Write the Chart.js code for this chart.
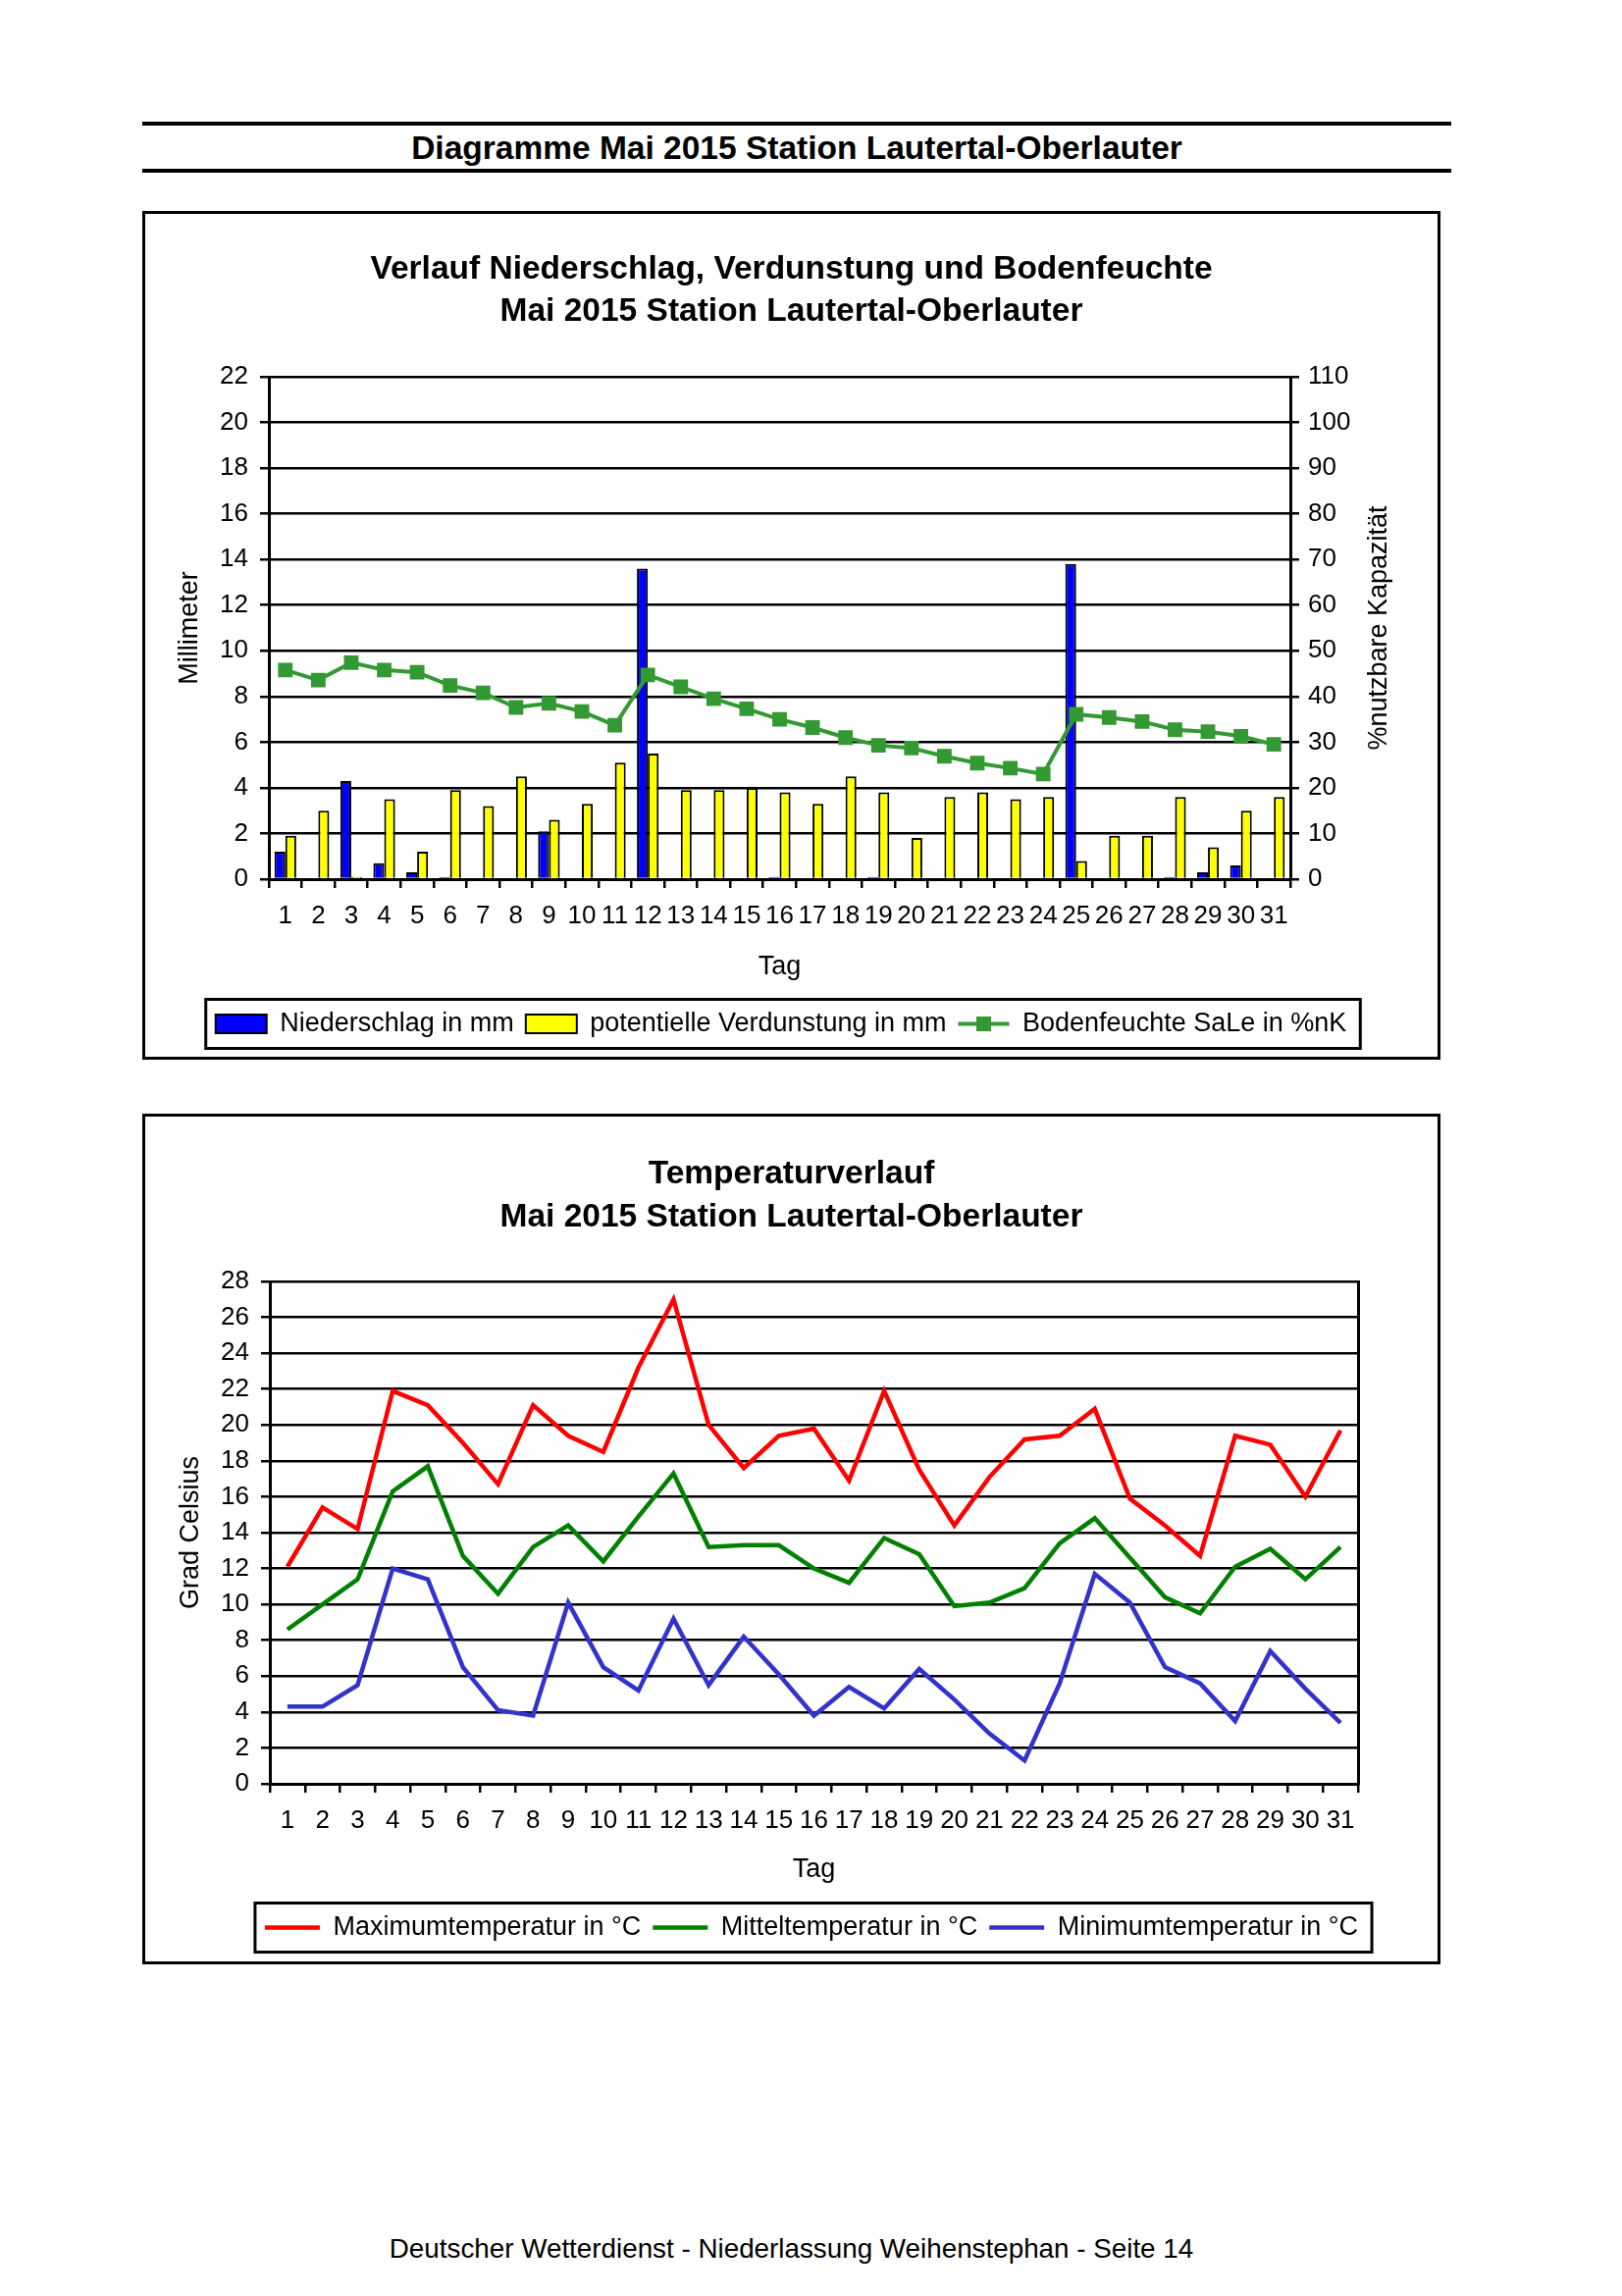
<!DOCTYPE html>
<html>
<head>
<meta charset="utf-8">
<script src="https://cdn.jsdelivr.net/npm/chart.js@4.4.1/dist/chart.umd.min.js"></script>
<style>
body { margin:0; background:#fff; font-family:"Liberation Sans", Arial, sans-serif; color:#000; }
#seite { position:relative; width:1653px; height:2340px; overflow:hidden; }
.linie { position:absolute; left:145px; width:1334px; height:4px; background:#000; }
.kopf { position:absolute; left:145px; width:1334px; top:131px; line-height:40px; text-align:center; font-weight:bold; font-size:33.5px; }
.rahmen { position:absolute; left:145px; width:1323px; border:3px solid #000; box-sizing:border-box; }
.rahmen canvas { position:absolute; left:0; top:0; }
.titel { position:absolute; left:0; width:100%; text-align:center; font-weight:bold; font-size:33.5px; line-height:43px; z-index:2; }
.fuss { position:absolute; left:145px; width:1323px; top:2276px; line-height:32px; text-align:center; font-size:27.8px; }
</style>
</head>
<body>
<div id="seite">
  <div class="linie" style="top:124px"></div>
  <div class="kopf">Diagramme Mai 2015 Station Lautertal-Oberlauter</div>
  <div class="linie" style="top:172px"></div>

  <div class="rahmen" style="top:215px;height:865px">
    <div class="titel" style="top:33px">Verlauf Niederschlag, Verdunstung und Bodenfeuchte<br>Mai 2015 Station Lautertal-Oberlauter</div>
    <canvas id="wasser" width="1317" height="859"></canvas>
  </div>

  <div class="rahmen" style="top:1135px;height:867px">
    <div class="titel" style="top:35px;line-height:44px">Temperaturverlauf<br>Mai 2015 Station Lautertal-Oberlauter</div>
    <canvas id="temp" width="1317" height="861"></canvas>
  </div>

  <div class="fuss">Deutscher Wetterdienst - Niederlassung Weihenstephan - Seite 14</div>
</div>

<script>
// Tage im Mai
const tage = [];
for (let i = 1; i <= 31; i++) tage.push(String(i));

// Niederschlag / Verdunstung in mm, Bodenfeuchte in %nK
const niederschlag = [1.2,0,4.3,0.7,0.3,0.1,0,0,2.1,0,0,13.6,0,0,0,0.1,0,0,0.1,0,0,0,0,0,13.8,0,0,0.1,0.3,0.6,0];
const verdunstung = [1.9,3.0,0.1,3.5,1.2,3.9,3.2,4.5,2.6,3.3,5.1,5.5,3.9,3.9,4.0,3.8,3.3,4.5,3.8,1.8,3.6,3.8,3.5,3.6,0.8,1.9,1.9,3.6,1.4,3.0,3.6];
const bodenfeuchte = [45.8,43.6,47.4,45.8,45.3,42.4,40.8,37.6,38.5,36.7,33.7,44.7,42.1,39.5,37.3,35.0,33.2,31.0,29.3,28.7,26.9,25.4,24.3,23.0,36.1,35.4,34.5,32.7,32.3,31.3,29.5];

// Temperaturen in Grad Celsius
const tMax = [12.1,15.4,14.2,21.9,21.1,19.0,16.7,21.1,19.4,18.5,23.2,27.0,20.0,17.6,19.4,19.8,16.9,21.9,17.5,14.4,17.1,19.2,19.4,20.9,15.9,14.4,12.7,19.4,18.9,16.0,19.7];
const tMittel = [8.6,10.0,11.4,16.3,17.7,12.7,10.6,13.2,14.4,12.4,14.9,17.3,13.2,13.3,13.3,12.0,11.2,13.7,12.8,9.9,10.1,10.9,13.4,14.8,12.6,10.4,9.5,12.1,13.1,11.4,13.2];
const tMin = [4.3,4.3,5.5,12.0,11.4,6.5,4.1,3.8,10.1,6.5,5.2,9.2,5.5,8.2,6.1,3.8,5.4,4.2,6.4,4.7,2.8,1.3,5.6,11.7,10.1,6.5,5.6,3.5,7.4,5.3,3.4];

Chart.defaults.font.family = '"Liberation Sans", Arial, sans-serif';
Chart.defaults.color = '#000';

const schrift = { size: 26 };
const titelSchrift = { size: 27 };

// Legende: Linien-Eintraege ohne Kaestchen, wir malen Linie + Marker selbst
function legendenEintraege(chart) {
  const items = Chart.defaults.plugins.legend.labels.generateLabels(chart);
  items.sort((a, b) => a.datasetIndex - b.datasetIndex);
  items.forEach(it => {
    const ds = chart.data.datasets[it.datasetIndex];
    if ((ds.type || chart.config.type) === 'line') {
      it.fillStyle = 'rgba(0,0,0,0)';
      it.strokeStyle = 'rgba(0,0,0,0)';
      it.lineWidth = 0;
    } else {
      it.lineWidth = 2;
      it.strokeStyle = '#000';
    }
  });
  return items;
}

const legendenRahmen = {
  id: 'legendenRahmen',
  afterDraw(chart) {
    const lg = chart.legend;
    const boxes = lg.legendHitBoxes;
    if (!boxes || !boxes.length) return;
    const ctx = chart.ctx;
    const bw = lg.options.labels.boxWidth;
    const cy = boxes[0].top + boxes[0].height / 2;
    const links = boxes[0].left - 10;
    const last = boxes[boxes.length - 1];
    const rechts = last.left + last.width + 14;
    ctx.save();
    ctx.lineWidth = 3;
    ctx.strokeStyle = '#000';
    ctx.strokeRect(links, cy - 25, rechts - links, 50);
    lg.legendItems.forEach((it, i) => {
      const ds = chart.data.datasets[it.datasetIndex];
      if ((ds.type || chart.config.type) !== 'line') return;
      const b = boxes[i];
      ctx.strokeStyle = ds.borderColor;
      ctx.lineWidth = ds.borderWidth;
      ctx.beginPath();
      ctx.moveTo(b.left, cy);
      ctx.lineTo(b.left + bw, cy);
      ctx.stroke();
      if (ds.pointRadius) {
        ctx.fillStyle = ds.backgroundColor;
        ctx.fillRect(b.left + bw / 2 - 7.5, cy - 7.5, 15, 15);
      }
    });
    ctx.restore();
  }
};

// rechte Achsenbeschriftung, von unten nach oben gelesen
const rechterTitel = {
  id: 'rechterTitel',
  afterDraw(chart, args, opts) {
    const s = chart.scales.y1;
    const ctx = chart.ctx;
    ctx.save();
    ctx.font = '27px "Liberation Sans", Arial, sans-serif';
    ctx.fillStyle = '#000';
    ctx.textAlign = 'center';
    ctx.textBaseline = 'middle';
    ctx.translate(s.right - opts.abstand, (chart.chartArea.top + chart.chartArea.bottom) / 2);
    ctx.rotate(-Math.PI / 2);
    ctx.fillText(opts.text, 0, 0);
    ctx.restore();
  }
};

const gitter = { color: '#000', lineWidth: 2.5, tickLength: 9 };

new Chart(document.getElementById('wasser'), {
  type: 'bar',
  data: {
    labels: tage,
    datasets: [
      { label: 'Niederschlag in mm', data: niederschlag, backgroundColor: '#0000ff', borderColor: '#000', borderWidth: 2, order: 1, yAxisID: 'y' },
      { label: 'potentielle Verdunstung in mm', data: verdunstung, backgroundColor: '#ffff00', borderColor: '#000', borderWidth: 2, order: 1, yAxisID: 'y' },
      { type: 'line', label: 'Bodenfeuchte SaLe in %nK', data: bodenfeuchte, borderColor: '#339933', backgroundColor: '#339933',
        borderWidth: 4, pointStyle: 'rect', pointRadius: 10.5, pointBorderWidth: 0, tension: 0, order: 0, yAxisID: 'y1' }
    ]
  },
  options: {
    responsive: false,
    animation: false,
    datasets: { bar: { categoryPercentage: 0.66, barPercentage: 1 } },
    layout: { padding: { top: 166, left: 0, right: 21, bottom: 10 } },
    plugins: {
      title: { display: false },
      tooltip: { enabled: false },
      legend: {
        position: 'bottom',
        labels: { font: titelSchrift, boxWidth: 52, boxHeight: 19, padding: 12, generateLabels: legendenEintraege }
      },
      rechterTitel: { text: '%nutzbare Kapazität', abstand: 38 }
    },
    scales: {
      x: {
        grid: { ...gitter, offset: true, drawOnChartArea: false },
        border: { color: '#000', width: 3 },
        ticks: { font: schrift, autoSkip: false, maxRotation: 0, minRotation: 0, padding: 13 },
        title: { display: true, text: 'Tag', font: titelSchrift, padding: { top: 0, bottom: 16 } },
        afterFit: s => { s.height = 122; }
      },
      y: {
        min: 0, max: 22,
        grid: gitter,
        border: { color: '#000', width: 3 },
        ticks: { font: schrift, stepSize: 2, padding: 12 },
        title: { display: true, text: 'Millimeter', font: titelSchrift, padding: { top: 29, bottom: 0 } },
        afterFit: s => { s.width = 126; }
      },
      y1: {
        position: 'right',
        min: 0, max: 110,
        grid: { ...gitter, drawOnChartArea: false },
        border: { color: '#000', width: 3 },
        ticks: { font: schrift, stepSize: 10, padding: 9 },
        afterFit: s => { s.width = 129; }
      }
    }
  },
  plugins: [legendenRahmen, rechterTitel]
});

new Chart(document.getElementById('temp'), {
  type: 'line',
  data: {
    labels: tage,
    datasets: [
      { label: 'Maximumtemperatur in °C', data: tMax, borderColor: '#ff0000', backgroundColor: '#ff0000', borderWidth: 4.5, pointRadius: 0, tension: 0 },
      { label: 'Mitteltemperatur in °C', data: tMittel, borderColor: '#008000', backgroundColor: '#008000', borderWidth: 4.5, pointRadius: 0, tension: 0 },
      { label: 'Minimumtemperatur in °C', data: tMin, borderColor: '#3333cc', backgroundColor: '#3333cc', borderWidth: 4.5, pointRadius: 0, tension: 0 }
    ]
  },
  options: {
    responsive: false,
    animation: false,
    layout: { padding: { top: 168, left: 41, right: 0, bottom: 11 } },
    plugins: {
      title: { display: false },
      tooltip: { enabled: false },
      legend: {
        position: 'bottom',
        labels: { font: titelSchrift, boxWidth: 56, boxHeight: 19, padding: 12, generateLabels: legendenEintraege }
      }
    },
    scales: {
      x: {
        offset: true,
        grid: { ...gitter, offset: true, drawOnChartArea: false },
        border: { color: '#000', width: 3 },
        ticks: { font: schrift, autoSkip: false, maxRotation: 0, minRotation: 0, padding: 13 },
        title: { display: true, text: 'Tag', font: titelSchrift, padding: { top: 0, bottom: 17 } },
        afterFit: s => { s.height = 121; }
      },
      y: {
        min: 0, max: 28,
        grid: gitter,
        border: { color: '#000', width: 3 },
        ticks: { font: schrift, stepSize: 2, padding: 12 },
        title: { display: true, text: 'Grad Celsius', font: titelSchrift, padding: { top: -11, bottom: 0 } },
        afterFit: s => { s.width = 86; }
      },
      rand: {
        position: 'right',
        min: 0, max: 28,
        grid: { display: false, drawTicks: false },
        border: { color: '#000', width: 3 },
        ticks: { display: false },
        afterFit: s => { s.width = 81; }
      }
    }
  },
  plugins: [legendenRahmen]
});
</script>
</body>
</html>
